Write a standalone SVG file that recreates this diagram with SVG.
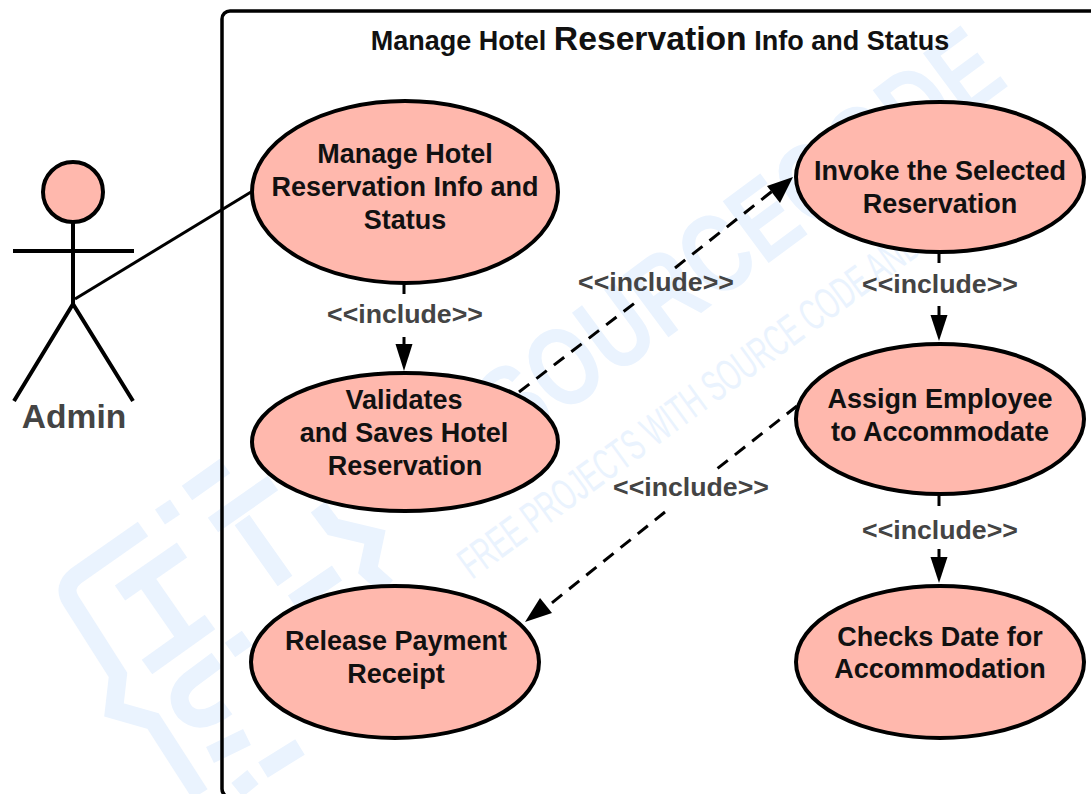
<svg xmlns="http://www.w3.org/2000/svg" width="1091" height="794" viewBox="0 0 1091 794">
<style>
text{font-family:"Liberation Sans",Arial,sans-serif;font-weight:700;text-anchor:middle}
.n{font-size:27px;fill:#111}
.l{font-size:26.7px;fill:#444}
ellipse{fill:#ffb8ad;stroke:#000;stroke-width:4}
.c{fill:none;stroke:#000;stroke-width:3}
.d{stroke-dasharray:13 9}
.h{fill:#000}
.wm{fill:#eaf3fe}
.wl{fill:none;stroke:#eaf3fe;stroke-width:18}
</style>
<rect width="1091" height="794" fill="#fff"/>
<g id="watermark">
<text class="wm" font-size="112" transform="translate(762 268) rotate(-36.500) scale(.77 1)">SOURCECODE</text>
<text class="wm" font-size="44" style="font-weight:400;text-anchor:start" transform="translate(472 580) rotate(-36) scale(.6 1)">FREE PROJECTS WITH SOURCE CODE AND</text>
<path class="wl" d="M143 529L76 576Q62 587 71 601L118 675L114 710L153 721L200 794"/>
<path class="wl" d="M120 593L182 550M148 583L182 632M147 667L210 622M160 517L175 507"/>
<path class="wl" d="M187 493L225 466M213 525L273 483M242 520L285 581"/>
<path class="wl" d="M318 507L333 527L375 537L368 570L387 587"/>
<path class="wl" d="M293 603L337 573M230 650L247 638"/>
<path class="wl" d="M217 660L190 680Q172 695 185 712Q200 727 227 707M210 755L247 737M263 770L300 747M237 790L253 777"/>
</g>
<rect id="boundary" x="222" y="11" width="900" height="786" rx="8" fill="none" stroke="#000" stroke-width="3.500"/>
<text x="660" y="50" style="font-size:27px;fill:#111"><tspan>Manage Hotel </tspan><tspan style="font-size:33.700px">Reservation</tspan><tspan> Info and Status</tspan></text>
<g id="connectors">
<path class="c" d="M75 299L251 192"/>
<path class="c" d="M404 284V294M404 337V346"/>
<path class="h" d="M404 371L395.500 344H412.500z"/>
<path class="c d" d="M519 392L636 302M675 268L775 189"/>
<path class="h" d="M793 177L767 186L780 203z"/>
<path class="c" d="M939 253V263M939 306V316"/>
<path class="h" d="M939 341L930.500 315H947.500z"/>
<path class="c d" d="M797 406L713 472M665 512L548 606"/>
<path class="h" d="M525 622L552 613L540 598z"/>
<path class="c" d="M939 496V506M939 549V558"/>
<path class="h" d="M939 583L930.500 557H947.500z"/>
</g>
<g id="labels">
<text x="405" y="323" class="l">&lt;&lt;include&gt;&gt;</text>
<text x="656" y="291" class="l">&lt;&lt;include&gt;&gt;</text>
<text x="940" y="293" class="l">&lt;&lt;include&gt;&gt;</text>
<text x="691" y="496" class="l">&lt;&lt;include&gt;&gt;</text>
<text x="940" y="539" class="l">&lt;&lt;include&gt;&gt;</text>
</g>
<g id="admin">
<circle cx="73" cy="192" r="30" fill="#ffb8ad" stroke="#000" stroke-width="4"/>
<path d="M73 222V304M13 251H134M73 304L14 401M73 304L133 401" fill="none" stroke="#000" stroke-width="4"/>
<text x="74" y="428" style="font-size:33.600px;fill:#444">Admin</text>
</g>
<g id="uc1"><ellipse cx="405" cy="192" rx="153" ry="91"/><text class="n" x="405" y="163">Manage Hotel</text><text class="n" x="405" y="196">Reservation Info and</text><text class="n" x="405" y="229">Status</text></g>
<g id="uc2"><ellipse cx="405" cy="442" rx="153" ry="69"/><text class="n" x="404" y="409">Validates</text><text class="n" x="404" y="442">and Saves Hotel</text><text class="n" x="405" y="475">Reservation</text></g>
<g id="uc3"><ellipse cx="395" cy="662" rx="144" ry="76"/><text class="n" x="396" y="650">Release Payment</text><text class="n" x="396" y="683">Receipt</text></g>
<g id="uc4"><ellipse cx="940" cy="177" rx="144" ry="75"/><text class="n" x="940" y="180">Invoke the Selected</text><text class="n" x="940" y="213">Reservation</text></g>
<g id="uc5"><ellipse cx="940" cy="419" rx="144" ry="75"/><text class="n" x="940" y="408">Assign Employee</text><text class="n" x="940" y="441">to Accommodate</text></g>
<g id="uc6"><ellipse cx="940" cy="662" rx="144" ry="76"/><text class="n" x="940" y="646">Checks Date for</text><text class="n" x="940" y="678">Accommodation</text></g>
</svg>
